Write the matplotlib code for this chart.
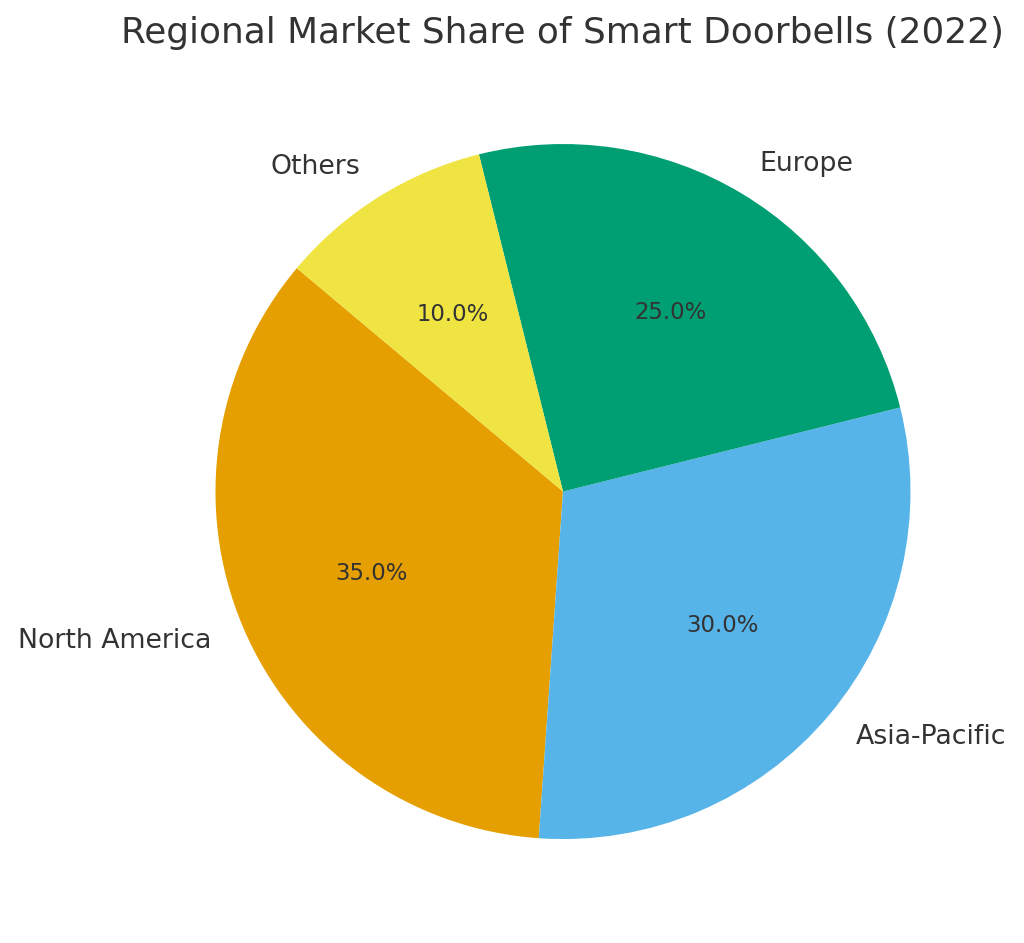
import matplotlib
matplotlib.use("Agg")
import matplotlib.pyplot as plt

regions = ["North America", "Asia-Pacific", "Europe", "Others"]
shares = [35, 30, 25, 10]
colors = ["#E69F00", "#56B4E9", "#009E73", "#F0E442"]
title = "Regional Market Share of Smart Doorbells (2022)"

text_color = "#333333"

fig = plt.figure(figsize=(10.24, 9.43), dpi=100)
ax = fig.add_axes([0.1256, 0.0181, 0.8484, 0.9213])
wedges, texts, autotexts = ax.pie(
    shares, labels=regions, colors=colors, autopct="%1.1f%%",
    startangle=140, labeldistance=1.1, pctdistance=0.6,
    textprops={"color": text_color},
)
for t in texts:
    t.set_fontsize(19.3)
for t in autotexts:
    t.set_fontsize(16.4)
ax.set_xlim(-1.25, 1.25)
ax.set_ylim(-1.25, 1.25)
ax.set_aspect("auto")
fig.text(0.5495, 0.965, title, ha="center", va="center", fontsize=25.8, color=text_color)
fig.savefig("out.png", dpi=100)
